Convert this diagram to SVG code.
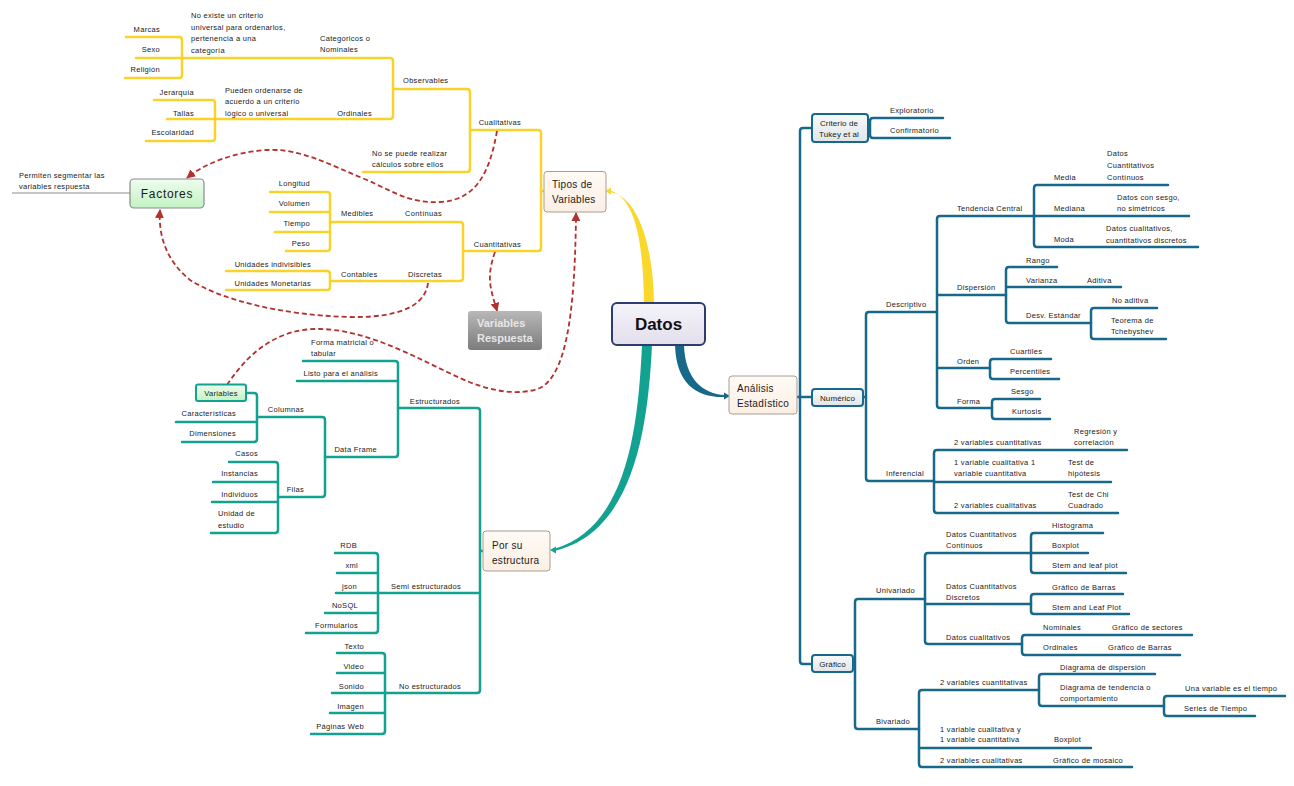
<svg xmlns="http://www.w3.org/2000/svg" width="1294" height="786" viewBox="0 0 1294 786">
<defs>
<style>
.y{stroke:#F8D42A;stroke-width:2.5;fill:none;stroke-linecap:round}
.t{stroke:#13A291;stroke-width:2.5;fill:none;stroke-linecap:round}
.b{stroke:#17698A;stroke-width:2.5;fill:none;stroke-linecap:round}
.d{stroke:#B3302C;stroke-width:1.8;stroke-dasharray:5 3;fill:none}
.l{font-family:"Liberation Sans",Arial,sans-serif;font-size:7.5px;letter-spacing:0.3px;fill:#1A1A1A}
.e{text-anchor:end}
.m{text-anchor:middle}
.bx{font-size:10px;letter-spacing:0.3px}
.sb{font-size:8px;letter-spacing:0.1px}
.fa{font-size:12px;letter-spacing:0.7px}
</style>
<linearGradient id="gD" x1="0" y1="0" x2="0" y2="1"><stop offset="0" stop-color="#F6F4FA"/><stop offset="1" stop-color="#E2DEEC"/></linearGradient>
<linearGradient id="gT" x1="0" y1="0" x2="0" y2="1"><stop offset="0" stop-color="#FFFAF5"/><stop offset="1" stop-color="#FBEFE4"/></linearGradient>
<linearGradient id="gG" x1="0" y1="0" x2="0" y2="1"><stop offset="0" stop-color="#EEFDEE"/><stop offset="1" stop-color="#C3F2C3"/></linearGradient>
<linearGradient id="gR" x1="0" y1="0" x2="0" y2="1"><stop offset="0" stop-color="#B8B8B8"/><stop offset="1" stop-color="#7C7C7C"/></linearGradient>
<linearGradient id="gB" x1="0" y1="0" x2="0" y2="1"><stop offset="0" stop-color="#F8FAFB"/><stop offset="1" stop-color="#DFE5E9"/></linearGradient>
<marker id="ar" viewBox="0 0 10 10" refX="9" refY="5" markerWidth="9" markerHeight="9" markerUnits="userSpaceOnUse" orient="auto"><path d="M0 0 L10 5 L0 10 z" fill="#B3302C"/></marker>
</defs>
<rect width="1294" height="786" fill="#FFFFFF"/>

<g id="connectors">
<!-- main curves -->
<path d="M644 303 C643 242 636 198 609 190 L609 192 C636 195 653 240 654 303 Z" fill="#F9D72B"/>
<polygon points="605,191 611,187.5 611,194.5" fill="#F9D72B"/>
<path d="M675 345 C676 384 697 398 725 397 L725 395 C703 394 685 379 684 345 Z" fill="#17698A"/>
<polygon points="730,396 724,392.5 724,399.5" fill="#17698A"/>
<path d="M642 345 C638 432 626 528 554 549 L554 551 C633 533 648 430 652 345 Z" fill="#13A291"/>
<polygon points="550,550 556,546.5 556,553.5" fill="#13A291"/>

<!-- yellow -->
<path class="y" d="M470 130 H538 Q541 130 541 133 V248 Q541 251 538 251 H463"/>
<path class="y" d="M541 191 H544"/>
<path class="y" d="M393 89 H467 Q470 89 470 92 V169 Q470 172 467 172 H363"/>
<path class="y" d="M182 58 H390 Q393 58 393 61 V116 Q393 119 390 119 H215"/>
<path class="y" d="M126 37 H179 Q182 37 182 40 V75 Q182 78 179 78 H125 M136 58 H182"/>
<path class="y" d="M154 100 H212 Q215 100 215 103 V138 Q215 141 212 141 H146 M167 119 H215"/>
<path class="y" d="M330 222 H460 Q463 222 463 225 V278 Q463 281 460 281 H330"/>
<path class="y" d="M270 192 H327 Q330 192 330 195 V248 Q330 251 327 251 H286 M270 212 H330 M275 232 H330"/>
<path class="y" d="M226 271 H327 Q330 271 330 274 V287 Q330 290 327 290 H226"/>
<path d="M12 193 H130" stroke="#8C8C8C" stroke-width="1" fill="none"/>

<!-- teal -->
<path class="t" d="M398 408 H477 Q480 408 480 411 V690 Q480 693 477 693 H385 M378 593 H480 M480 551 H483"/>
<path class="t" d="M303 361 H395 Q398 361 398 364 V454 Q398 457 395 457 H325 M297 381 H398"/>
<path class="t" d="M257 417 H322 Q325 417 325 420 V494 Q325 497 322 497 H278"/>
<path class="t" d="M246 393 H254 Q257 393 257 396 V439 Q257 442 254 442 H182 M176 422 H257"/>
<path class="t" d="M229 462 H275 Q278 462 278 465 V530 Q278 533 275 533 H211 M213 482 H278 M212 502 H278"/>
<path class="t" d="M335 553 H375 Q378 553 378 556 V630 Q378 633 375 633 H306 M337 573 H378 M336 593 H378 M325 613 H378"/>
<path class="t" d="M337 653 H382 Q385 653 385 656 V731 Q385 734 382 734 H311 M337 673 H385 M332 693 H385 M330 713 H385"/>

<!-- blue -->
<path class="b" d="M812 128 H803 Q800 128 800 131 V661 Q800 664 803 664 H812 M797 397 H812"/>
<path class="b" d="M943 118 H873 Q870 118 870 121 V135 Q870 138 873 138 H950 M868 128 H870"/>
<path class="b" d="M937 312 H869 Q866 312 866 315 V478 Q866 481 869 481 H934 M863 397 H866"/>
<path class="b" d="M1034 216 H940 Q937 216 937 219 V405 Q937 408 940 408 H992 M937 295 H1006 M937 368 H990"/>
<path class="b" d="M1168 185 H1037 Q1034 185 1034 188 V244 Q1034 247 1037 247 H1198 M1034 216 H1189"/>
<path class="b" d="M1057 267 H1009 Q1006 267 1006 270 V320 Q1006 323 1009 323 H1091 M1006 287 H1121"/>
<path class="b" d="M1157 308 H1094 Q1091 308 1091 311 V336 Q1091 339 1094 339 H1166"/>
<path class="b" d="M1051 359 H993 Q990 359 990 362 V376 Q990 379 993 379 H1059"/>
<path class="b" d="M1040 399 H995 Q992 399 992 402 V416 Q992 419 995 419 H1050"/>
<path class="b" d="M1127 450 H937 Q934 450 934 453 V510 Q934 513 937 513 H1118 M934 482 H1111"/>
<path class="b" d="M925 599 H858 Q855 599 855 602 V726 Q855 729 858 729 H919 M853 664 H855"/>
<path class="b" d="M1031 553 H928 Q925 553 925 556 V641 Q925 644 928 644 H1022 M925 604 H1031"/>
<path class="b" d="M1103 533 H1034 Q1031 533 1031 536 V570 Q1031 573 1034 573 H1126 M1031 553 H1088"/>
<path class="b" d="M1123 594 H1034 Q1031 594 1031 597 V611 Q1031 614 1034 614 H1129"/>
<path class="b" d="M1192 635 H1025 Q1022 635 1022 638 V652 Q1022 655 1025 655 H1180"/>
<path class="b" d="M1039 690 H922 Q919 690 919 693 V764 Q919 767 922 767 H1132 M919 748 H1091"/>
<path class="b" d="M1155 674 H1042 Q1039 674 1039 677 V703 Q1039 706 1042 706 H1164"/>
<path class="b" d="M1285 696 H1167 Q1164 696 1164 699 V713 Q1164 716 1167 716 H1255"/>

<!-- dashed relations -->
<path class="d" marker-end="url(#ar)" d="M497 131 C490 170 478 200 440 202 C410 204 390 190 367 180 C330 165 300 148 267 150 C235 152 205 163 187 178"/>
<path class="d" marker-end="url(#ar)" d="M428 283 C426 300 410 318 350 317 C280 315 222 300 190 280 C168 262 158 238 160 210"/>
<path class="d" marker-end="url(#ar)" d="M495 252 C485 280 492 292 497 311"/>
<path class="d" marker-end="url(#ar)" d="M227 385 C250 350 280 328 320 329 C370 330 420 360 460 378 C490 392 520 396 540 388 C565 375 575 320 576 213"/>
</g>

<!-- central & main nodes -->
<g id="datos"><rect x="612" y="303" width="93" height="42" rx="5" fill="url(#gD)" stroke="#2C3D6E" stroke-width="2"/><text x="658.5" y="330" text-anchor="middle" font-family="Liberation Sans, Arial, sans-serif" font-weight="bold" font-size="17" fill="#111">Datos</text></g>
<g id="tipos"><rect x="544" y="171.5" width="62" height="40.5" rx="3" fill="url(#gT)" stroke="#A99C92"/><text class="l bx" x="552" y="188">Tipos de</text><text class="l bx" x="552" y="203">Variables</text></g>
<g id="analisis"><rect x="729" y="376" width="68" height="38" rx="3" fill="url(#gT)" stroke="#A99C92"/><text class="l bx" x="737" y="392">Análisis</text><text class="l bx" x="737" y="407">Estadístico</text></g>
<g id="porsu"><rect x="483" y="531" width="67" height="40" rx="3" fill="url(#gT)" stroke="#A99C92"/><text class="l bx" x="492" y="549">Por su</text><text class="l bx" x="492" y="564">estructura</text></g>
<g id="factores"><rect x="130" y="179" width="74" height="29" rx="4" fill="url(#gG)" stroke="#8A8A8A" stroke-width="1.2"/><text class="l m fa" x="167" y="198">Factores</text></g>
<g id="varresp"><rect x="468" y="311" width="74" height="39" rx="3" fill="url(#gR)"/><text x="477" y="327" font-family="Liberation Sans, Arial, sans-serif" font-weight="bold" font-size="11" fill="#E6E6E6">Variables</text><text x="477" y="342" font-family="Liberation Sans, Arial, sans-serif" font-weight="bold" font-size="11" fill="#E6E6E6">Respuesta</text></g>
<g id="variables"><rect x="196" y="384.5" width="50" height="16.5" rx="2" fill="url(#gG)" stroke="#13A291" stroke-width="2"/><text class="l m" x="221" y="396">Variables</text></g>
<g id="criterio"><rect x="812" y="114" width="56" height="28" rx="3" fill="url(#gB)" stroke="#17698A" stroke-width="2"/><text class="l sb m" x="839" y="126">Criterio de</text><text class="l sb m" x="839" y="137">Tukey et al</text></g>
<g id="numerico"><rect x="812" y="389" width="51" height="17" rx="3" fill="url(#gB)" stroke="#17698A" stroke-width="2"/><text class="l sb m" x="837.5" y="400.5">Numérico</text></g>
<g id="grafico"><rect x="812" y="655" width="41" height="17" rx="3" fill="url(#gB)" stroke="#17698A" stroke-width="2"/><text class="l sb m" x="832.5" y="666.5">Gráfico</text></g>

<!-- yellow labels -->
<g id="permiten"><text class="l" x="19" y="178">Permiten segmentar las</text><text class="l" x="19" y="189">variables respuesta</text></g>
<g id="marcas"><text class="l e" x="160" y="32">Marcas</text></g>
<g id="sexo"><text class="l e" x="160" y="52">Sexo</text></g>
<g id="religion"><text class="l e" x="160" y="72">Religión</text></g>
<g id="noexiste"><text class="l" x="191" y="18">No existe un criterio</text><text class="l" x="191" y="30">universal para ordenarlos,</text><text class="l" x="191" y="41">pertenencia a una</text><text class="l" x="191" y="53">categoría</text></g>
<g id="categoricos"><text class="l" x="320" y="41">Categoricos o</text><text class="l" x="320" y="52">Nominales</text></g>
<g id="observables"><text class="l" x="403" y="83">Observables</text></g>
<g id="jerarquia"><text class="l e" x="194" y="95">Jerarquía</text></g>
<g id="tallas"><text class="l e" x="194" y="116">Tallas</text></g>
<g id="escolaridad"><text class="l e" x="194" y="135">Escolaridad</text></g>
<g id="pueden"><text class="l" x="225" y="93">Pueden ordenarse de</text><text class="l" x="225" y="104">acuerdo a un criterio</text><text class="l" x="225" y="116">lógico o universal</text></g>
<g id="ordinales-y"><text class="l e" x="372" y="116">Ordinales</text></g>
<g id="cualitativas"><text class="l e" x="521" y="125">Cualitativas</text></g>
<g id="nosepuede"><text class="l" x="372" y="156">No se puede realizar</text><text class="l" x="372" y="167">cálculos sobre ellos</text></g>
<g id="longitud"><text class="l e" x="310" y="186">Longitud</text></g>
<g id="volumen"><text class="l e" x="310" y="206">Volumen</text></g>
<g id="tiempo"><text class="l e" x="310" y="226">Tiempo</text></g>
<g id="peso"><text class="l e" x="310" y="246">Peso</text></g>
<g id="medibles"><text class="l" x="341" y="216">Medibles</text></g>
<g id="continuas"><text class="l e" x="442" y="216">Contínuas</text></g>
<g id="unidind"><text class="l e" x="311" y="267">Unidades indivisibles</text></g>
<g id="unidmon"><text class="l e" x="311" y="286">Unidades Monetarias</text></g>
<g id="contables"><text class="l" x="341" y="277">Contables</text></g>
<g id="discretas"><text class="l e" x="442" y="277">Discretas</text></g>
<g id="cuantitativas"><text class="l e" x="521" y="247">Cuantitativas</text></g>

<!-- teal labels -->
<g id="forma-matricial"><text class="l" x="311" y="345">Forma matricial o</text><text class="l" x="311" y="356">tabular</text></g>
<g id="listo"><text class="l e" x="378" y="376">Listo para el análisis</text></g>
<g id="estructurados"><text class="l e" x="460" y="404">Estructurados</text></g>
<g id="dataframe"><text class="l e" x="377" y="452">Data Frame</text></g>
<g id="columnas"><text class="l e" x="304" y="412">Columnas</text></g>
<g id="filas"><text class="l e" x="304" y="492">Filas</text></g>
<g id="caracteristicas"><text class="l e" x="236" y="416">Características</text></g>
<g id="dimensiones"><text class="l e" x="236" y="436">Dimensiones</text></g>
<g id="casos"><text class="l e" x="258" y="456">Casos</text></g>
<g id="instancias"><text class="l e" x="258" y="476">Instancias</text></g>
<g id="individuos"><text class="l e" x="258" y="497">Individuos</text></g>
<g id="unidad"><text class="l" x="218" y="516">Unidad de</text><text class="l" x="218" y="528">estudio</text></g>
<g id="rdb"><text class="l e" x="357" y="548">RDB</text></g>
<g id="xml"><text class="l e" x="358" y="568">xml</text></g>
<g id="json"><text class="l e" x="357" y="589">json</text></g>
<g id="nosql"><text class="l e" x="358" y="608">NoSQL</text></g>
<g id="formularios"><text class="l e" x="358" y="628">Formularios</text></g>
<g id="semi"><text class="l e" x="461" y="589">Semi estructurados</text></g>
<g id="texto"><text class="l e" x="364" y="649">Texto</text></g>
<g id="video"><text class="l e" x="364" y="669">Video</text></g>
<g id="sonido"><text class="l e" x="364" y="689">Sonido</text></g>
<g id="imagen"><text class="l e" x="364" y="709">Imagen</text></g>
<g id="paginas"><text class="l e" x="364" y="729">Páginas Web</text></g>
<g id="noestructurados"><text class="l e" x="461" y="689">No estructurados</text></g>

<!-- blue labels -->
<g id="exploratorio"><text class="l" x="890" y="113">Exploratorio</text></g>
<g id="confirmatorio"><text class="l" x="890" y="133">Confirmatorio</text></g>
<g id="descriptivo"><text class="l" x="886" y="307">Descriptivo</text></g>
<g id="inferencial"><text class="l" x="886" y="476">Inferencial</text></g>
<g id="tendencia"><text class="l" x="957" y="211">Tendencia Central</text></g>
<g id="dispersion"><text class="l" x="957" y="290">Dispersión</text></g>
<g id="orden"><text class="l" x="957" y="364">Orden</text></g>
<g id="forma"><text class="l" x="957" y="404">Forma</text></g>
<g id="media"><text class="l" x="1054" y="180">Media</text></g>
<g id="media-d"><text class="l" x="1107" y="156">Datos</text><text class="l" x="1107" y="168">Cuantitativos</text><text class="l" x="1107" y="180">Contínuos</text></g>
<g id="mediana"><text class="l" x="1054" y="211">Mediana</text></g>
<g id="mediana-d"><text class="l" x="1117" y="200">Datos con sesgo,</text><text class="l" x="1117" y="211">no simétricos</text></g>
<g id="moda"><text class="l" x="1054" y="242">Moda</text></g>
<g id="moda-d"><text class="l" x="1106" y="231">Datos cualitativos,</text><text class="l" x="1106" y="243">cuantitativos discretos</text></g>
<g id="rango"><text class="l" x="1026" y="263">Rango</text></g>
<g id="varianza"><text class="l" x="1026" y="283">Varianza</text></g>
<g id="aditiva"><text class="l" x="1087" y="283">Aditiva</text></g>
<g id="desv"><text class="l" x="1026" y="318">Desv. Estándar</text></g>
<g id="noaditiva"><text class="l" x="1112" y="303">No aditiva</text></g>
<g id="teorema"><text class="l" x="1111" y="323">Teorema de</text><text class="l" x="1111" y="334">Tchebyshev</text></g>
<g id="cuartiles"><text class="l" x="1010" y="354">Cuartiles</text></g>
<g id="percentiles"><text class="l" x="1010" y="374">Percentiles</text></g>
<g id="sesgo"><text class="l" x="1011" y="394">Sesgo</text></g>
<g id="kurtosis"><text class="l" x="1012" y="414">Kurtosis</text></g>
<g id="inf-2vc"><text class="l" x="954" y="445">2 variables cuantitativas</text></g>
<g id="regresion"><text class="l" x="1074" y="434">Regresión y</text><text class="l" x="1074" y="445">correlación</text></g>
<g id="inf-1v"><text class="l" x="954" y="465">1 variable cualitativa 1</text><text class="l" x="954" y="476">variable cuantitativa</text></g>
<g id="testhip"><text class="l" x="1068" y="465">Test de</text><text class="l" x="1068" y="476">hipótesis</text></g>
<g id="inf-2vcual"><text class="l" x="954" y="508">2 variables cualitativas</text></g>
<g id="chi"><text class="l" x="1068" y="497">Test de Chi</text><text class="l" x="1068" y="508">Cuadrado</text></g>
<g id="univariado"><text class="l" x="876" y="593">Univariado</text></g>
<g id="bivariado"><text class="l" x="876" y="724">Bivariado</text></g>
<g id="dcc"><text class="l" x="946" y="537">Datos Cuantitativos</text><text class="l" x="946" y="548">Contínuos</text></g>
<g id="dcd"><text class="l" x="946" y="589">Datos Cuantitativos</text><text class="l" x="946" y="600">Discretos</text></g>
<g id="dcual"><text class="l" x="946" y="640">Datos cualitativos</text></g>
<g id="histograma"><text class="l" x="1052" y="528">Histograma</text></g>
<g id="boxplot1"><text class="l" x="1052" y="548">Boxplot</text></g>
<g id="stem1"><text class="l" x="1052" y="568">Stem and leaf plot</text></g>
<g id="barras1"><text class="l" x="1052" y="590">Gráfico de Barras</text></g>
<g id="stem2"><text class="l" x="1052" y="610">Stem and Leaf Plot</text></g>
<g id="nominales"><text class="l" x="1043" y="630">Nominales</text></g>
<g id="sectores"><text class="l" x="1112" y="630">Gráfico de sectores</text></g>
<g id="ordinales-b"><text class="l" x="1043" y="650">Ordinales</text></g>
<g id="barras2"><text class="l" x="1108" y="650">Gráfico de Barras</text></g>
<g id="biv-2vc"><text class="l" x="940" y="685">2 variables cuantitativas</text></g>
<g id="biv-1v"><text class="l" x="940" y="732">1 variable cualitativa y</text><text class="l" x="940" y="742">1 variable cuantitativa</text></g>
<g id="boxplot2"><text class="l" x="1054" y="742">Boxplot</text></g>
<g id="biv-2vcual"><text class="l" x="940" y="763">2 variables cualitativas</text></g>
<g id="mosaico"><text class="l" x="1053" y="763">Gráfico de mosaico</text></g>
<g id="diag-disp"><text class="l" x="1060" y="670">Diagrama de dispersión</text></g>
<g id="diag-tend"><text class="l" x="1060" y="690">Diagrama de tendencia o</text><text class="l" x="1060" y="701">comportamiento</text></g>
<g id="unavar"><text class="l" x="1185" y="691">Una variable es el tiempo</text></g>
<g id="series"><text class="l" x="1184" y="711">Series de Tiempo</text></g>
</svg>
